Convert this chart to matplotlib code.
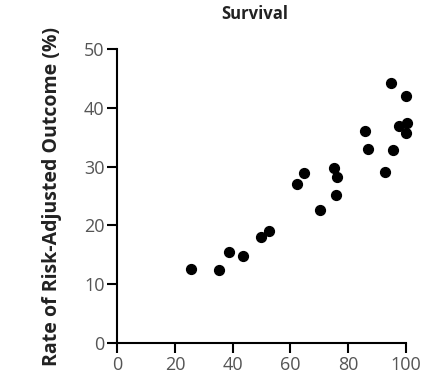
import matplotlib
matplotlib.use("Agg")
import matplotlib.pyplot as plt

title = "Survival"
ylabel = "Rate of Risk-Adjusted Outcome (%)"
x_vals = [94.8, 100.1, 100.4, 97.5, 100.1, 85.7, 86.9, 95.5, 92.6, 75.0, 76.2,
          64.7, 62.1, 75.9, 70.2, 52.7, 49.9, 38.6, 43.6, 25.6, 35.1]
y_vals = [44.3, 42.0, 37.4, 36.9, 35.8, 36.1, 33.0, 32.8, 29.1, 29.7, 28.2,
          28.9, 27.0, 25.1, 22.7, 19.0, 18.1, 15.5, 14.8, 12.6, 12.4]
x_ticks = [0, 20, 40, 60, 80, 100]
y_ticks = [0, 10, 20, 30, 40, 50]

plt.rcParams['font.family'] = ['Open Sans', 'DejaVu Sans']
fig = plt.figure(figsize=(4.26, 3.77), dpi=100)
ax = fig.add_axes([0.275, 0.090, 0.678, 0.780])
ax.scatter(x_vals, y_vals, s=50, color='black', zorder=3, clip_on=False)
ax.set_xlim(0, 100)
ax.set_ylim(0, 50)
ax.set_xticks(x_ticks)
ax.set_yticks(y_ticks)
for s in ['top', 'right']:
    ax.spines[s].set_visible(False)
for s in ['left', 'bottom']:
    ax.spines[s].set_linewidth(1.5)
ax.tick_params(direction='out', length=7, width=1.5, labelsize=13,
               labelcolor='#555555', pad=2)
ax.set_ylabel(ylabel, fontsize=14, fontweight='bold', color='#222222', labelpad=16)
fig.text(0.597, 0.963, title, fontsize=12, fontweight='bold', color='#222222',
         ha='center', va='center')
fig.savefig("out.png", dpi=100)
